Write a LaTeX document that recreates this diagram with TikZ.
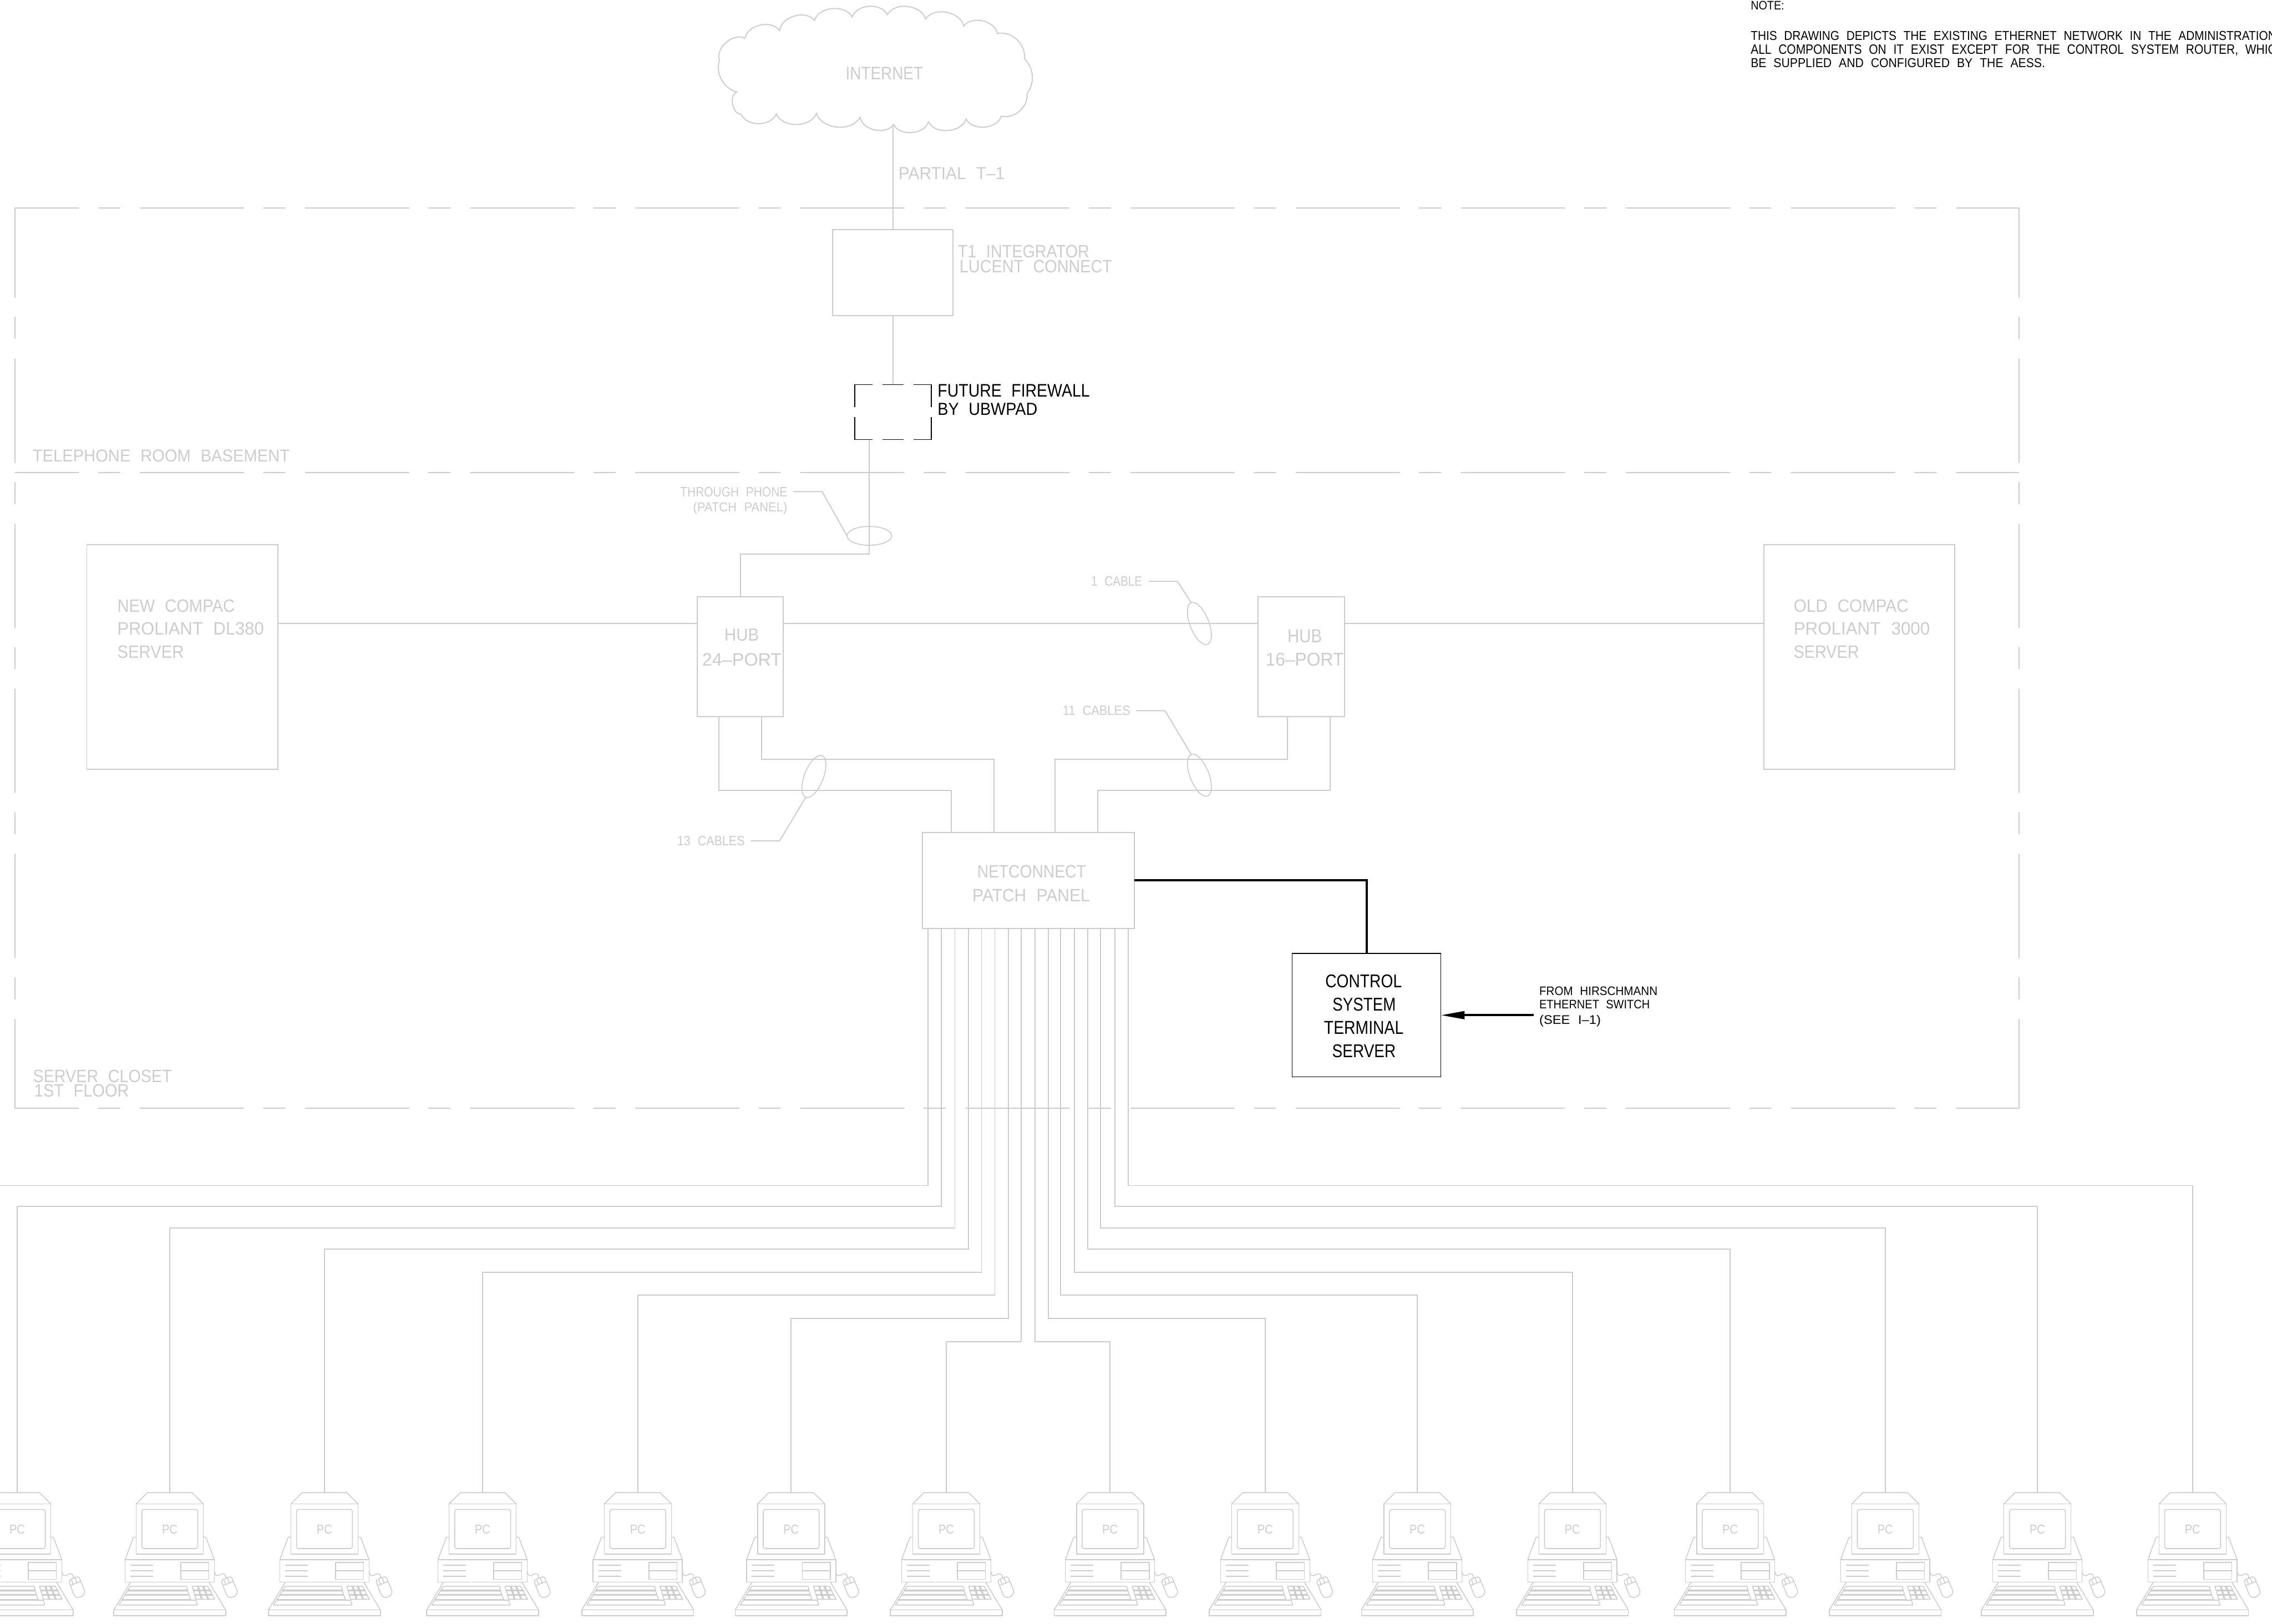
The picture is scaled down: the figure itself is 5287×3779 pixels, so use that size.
\documentclass[tikz,border=0pt]{standalone}
\usepackage{graphicx}
\usepackage{fontspec}
\usetikzlibrary{arrows.meta,shapes.geometric}
\newfontfamily\cadfont[WordSpace=2.2]{Liberation Sans}
\definecolor{cadgray}{HTML}{CCCCCC}
\newlength\cadpx
\setlength\cadpx{0.01cm}
\newcommand\cadt[3]{\resizebox{#1\cadpx}{#2\cadpx}{#3}}
\tikzset{
  gl/.style={draw=cadgray,line width=0.25mm},
  fr/.style={draw=cadgray,line width=0.24mm,line cap=round,dash pattern=on 24.1mm off 4.6mm on 5mm off 4.7mm},
  blk/.style={draw=black,line width=0.18mm},
  thk/.style={draw=black,line width=0.5mm},
  bx/.style 2 args={rectangle,inner sep=0pt,outer sep=0pt,minimum width=#1*0.01cm,minimum height=#2*0.01cm},
  ell/.style={ellipse,draw=cadgray,line width=0.22mm,inner sep=0pt,outer sep=0pt,minimum width=1.04cm,minimum height=0.44cm},
  lb/.style={anchor=base west,inner sep=0pt,outer sep=0pt,text=cadgray,font=\cadfont},
  lbk/.style={anchor=base west,inner sep=0pt,outer sep=0pt,text=black,font=\cadfont},
  pcunit/.pic={
    \begin{scope}[x=0.0033333cm,y=-0.0033333cm,shift={(-439,-158)},draw=cadgray,line width=0.2mm,line join=round]
      \coordinate (-top) at (439,158);
      \draw (205,238) -- (283,160) -- (595,160) -- (674,238);
      \draw (205,238) rectangle (674,590);
      \draw[rounded corners=0.05cm] (244,277) rectangle (635,551);
      \node[inner sep=0pt,outer sep=0pt,text=cadgray,font=\cadfont] (-lbl) at (439,416) {\cadt{36}{21}{PC}};
      \draw (127,628) -- (185,472) -- (205,472);
      \draw (674,472) -- (692,472) -- (751,628);
      \draw (127,628) rectangle (751,785);
      \draw (163,668) -- (323,668) (163,707) -- (323,707) (163,746) -- (323,746);
      \draw (517,648) rectangle (713,766);
      \draw (517,707) -- (713,707);
      \draw (751,707) .. controls (755,745) and (770,745) .. (790,735) .. controls (815,720) and (830,725) .. (832,757);
      \draw (803,790) .. controls (798,770) and (815,765) .. (825,762) -- (850,750) .. controls (870,745) and (878,760) .. (883,780) -- (908,838) .. controls (920,870) and (890,895) .. (865,893) .. controls (845,893) and (838,880) .. (830,860) -- cycle;
      \draw (815,808) -- (883,781) (818,770) -- (830,800) (843,757) -- (855,788);
      \draw (48,980) rectangle (830,1020);
      \draw (48,980) -- (166,785) (830,980) -- (713,785);
      \draw (145,842) -- (166,815) -- (557,815) -- (565,842) -- cycle;
      \draw (127,872) -- (145,848) -- (565,848) -- (573,872) -- cycle;
      \draw (105,907) -- (127,878) -- (575,878) -- (585,907) -- cycle;
      \draw (83,946) -- (105,912) -- (622,912) -- (632,946) -- cycle;
      \draw (595,814) -- (705,814) -- (753,906) -- (622,906) -- cycle;
      \draw (632,814) -- (660,906) (640,814) -- (667,906) (668,814) -- (706,906) (676,814) -- (713,906);
      \draw (605,842) -- (725,842) (605,848) -- (728,848) (612,872) -- (738,872) (614,878) -- (742,878);
      \draw (585,910) -- (622,910);
    \end{scope}
  }
}
\begin{document}
\begin{tikzpicture}[x=0.01cm,y=-0.01cm]
\useasboundingbox (0,0) rectangle (5287,3779);

% cloud
\begin{scope}[shift={(1500,0)},x=0.007653cm,y=-0.005102cm]
  \draw[gl,line join=miter] (227,275)
    to[bend left=68] (305,175) to[bend left=68] (410,140) to[bend left=68] (516,93)
    to[bend left=68] (630,78) to[bend left=68] (737,67) to[bend left=68] (853,87)
    to[bend left=68] (969,120) to[bend left=68] (1071,153) to[bend left=55] (1153,268)
    to[bend left=40] (1161,428) to[bend left=55] (1083,530) to[bend left=68] (976,543)
    to[bend left=68] (862,556) to[bend left=68] (756,568) to[bend left=68] (654,535)
    to[bend left=68] (522,517) to[bend left=68] (400,520) to[bend left=68] (293,521)
    to[bend left=80] (280,420) to[bend left=45] (227,275);
\end{scope}
\coordinate (cusp) at (2078,290);

% frame
\coordinate (ftl) at (35,484);
\coordinate (ftr) at (4698,484);
\coordinate (fml) at (35,1100);
\coordinate (fmr) at (4698,1100);
\coordinate (fbl) at (35,2579);
\coordinate (fbr) at (4698,2579);
\draw[fr,dash phase=9.3mm] (ftl) -- (ftr);
\draw[fr,dash phase=9.3mm] (fml) -- (fmr);
\draw[fr,dash phase=9.3mm] (fbl) -- (fbr);
\draw[fr,dash phase=3.3mm] (ftl) -- (fbl);
\draw[fr,dash phase=3.3mm] (ftr) -- (fbr);

% boxes
\node[bx={280}{201},gl] (t1) at (2078,634.5) {};
\node[bx={178}{128}] (firewall) at (2078,959) {};
\node[bx={445}{522},gl] (srvnew) at (424.5,1529) {};
\node[bx={445}{522},gl] (srvold) at (4326.5,1529) {};
\node[bx={200}{279},gl] (hub24) at (1723,1528.5) {};
\node[bx={201}{279},gl] (hub16) at (3028.5,1528.5) {};
\node[bx={493}{224},gl] (panel) at (2392.5,2049) {};
\node[bx={346}{287},blk] (ctrl) at (3180,2362.5) {};

% firewall dashes
\draw[blk] (firewall.north west) ++(42,0) -- (firewall.north west) -- ++(0,52);
\draw[blk] (firewall.north east) ++(-41,0) -- (firewall.north east) -- ++(0,52);
\draw[blk] (firewall.south west) ++(42,0) -- (firewall.south west) -- ++(0,-52);
\draw[blk] (firewall.south east) ++(-41,0) -- (firewall.south east) -- ++(0,-52);
\draw[blk] (2054,895) -- (2103,895) (2054,1023) -- (2103,1023);

% connectors
\draw[gl] (cusp) -- (t1.north);
\draw[gl] (t1.south) -- (firewall.north);
\coordinate (via) at (2023,1289.5);
\draw[gl] (via |- firewall.south) -- (via) -| (hub24.north);
\coordinate (busy) at (0,1451);
\draw[gl] (srvnew.east |- busy) -- (hub24.west |- busy);
\draw[gl] (hub24.east |- busy) -- (hub16.west |- busy);
\draw[gl] (hub16.east |- busy) -- (srvold.west |- busy);

\coordinate (a1) at (1673,1839); \coordinate (b1) at (2214,1839);
\coordinate (a2) at (1772,1767); \coordinate (b2) at (2313,1767);
\coordinate (a3) at (3095,1839); \coordinate (b3) at (2554,1839);
\coordinate (a4) at (2996,1767); \coordinate (b4) at (2455,1767);
\draw[gl] (a1 |- hub24.south) -- (a1) -- (b1) -- (b1 |- panel.north);
\draw[gl] (a2 |- hub24.south) -- (a2) -- (b2) -- (b2 |- panel.north);
\draw[gl] (a3 |- hub16.south) -- (a3) -- (b3) -- (b3 |- panel.north);
\draw[gl] (a4 |- hub16.south) -- (a4) -- (b4) -- (b4 |- panel.north);

\draw[thk] (panel.east) -| (ctrl.north);
\coordinate (arrowfrom) at (3569,2362.5);
\draw[thk,-{Triangle[length=5.5mm,width=1.8mm]}] (arrowfrom) -- (ctrl.east);

% cable markers
\node[ell] (ellphone) at (2023,1247) {};
\node[ell,rotate=-68.6] (ell1) at (2791,1451) {};
\node[ell,rotate=-68.6] (ell11) at (2791,1804) {};
\node[ell,rotate=68.6] (ell13) at (1894,1807) {};
\coordinate (ldpa) at (1846,1144); \coordinate (ldpb) at (1913,1144);
\draw[gl] (ldpa) -- (ldpb) -- (ellphone.west);
\coordinate (ld1a) at (2673,1353); \coordinate (ld1b) at (2740,1353);
\draw[gl] (ld1a) -- (ld1b) -- (ell1.west);
\coordinate (ld11a) at (2644,1654); \coordinate (ld11b) at (2711,1654);
\draw[gl] (ld11a) -- (ld11b) -- (ell11.west);
\coordinate (ld13a) at (1747,1957); \coordinate (ld13b) at (1814,1957);
\draw[gl] (ld13a) -- (ld13b) -- (ell13.west);

% PCs and their cables
\foreach \i/\xp in {1/40,2/395,3/755,4/1123,5/1484,6/1841,7/2202,8/2583,9/2944,10/3298,11/3659,12/4026,13/4387,14/4741,15/5102}
  \pic (pc\i) at (\xp,3473) {pcunit};
\foreach \i/\xv/\yh in {1/2191/2808,2/2222/2858,3/2254/2907,4/2284/2961,5/2315/3014,6/2346/3068,7/2376/3122,8/2408/3122,9/2439/3068,10/2468/3014,11/2500/2961,12/2531/2907,13/2561/2858,14/2594/2808,15/2626/2759}{
  \coordinate (t\i) at (\xv,\yh);
  \draw[gl] (panel.south -| t\i) -- (t\i) -- (t\i -| pc\i-top) -- (pc\i-top);
}
\coordinate (t0) at (2159,2759);
\coordinate (offleft) at (-10,2759);
\draw[gl] (panel.south -| t0) -- (t0) -- (offleft);

% labels (left x, baseline y)
\node[lb] (tinternet) at (1968,185) {\cadt{180}{29}{INTERNET}};
\node[lb] (tpartial) at (2091,417) {\cadt{247}{28}{PARTIAL T–1}};
\node[lb] (tt1a) at (2229,599) {\cadt{306}{29}{T1 INTEGRATOR}};
\node[lb] (tt1b) at (2233,635) {\cadt{355}{29}{LUCENT CONNECT}};
\node[lbk] (tfwa) at (2182,924) {\cadt{354}{29}{FUTURE FIREWALL}};
\node[lbk] (tfwb) at (2182,966) {\cadt{232}{28}{BY UBWPAD}};
\node[lb] (ttel) at (76,1074) {\cadt{598}{28}{TELEPHONE ROOM BASEMENT}};
\node[lb] (tclosa) at (77,2519) {\cadt{323}{29}{SERVER CLOSET}};
\node[lb] (tclosb) at (80,2553) {\cadt{220}{29}{1ST FLOOR}};
\node[lb] (tnewa) at (273,1424) {\cadt{273}{29}{NEW COMPAC}};
\node[lb] (tnewb) at (273,1477) {\cadt{341}{29}{PROLIANT DL380}};
\node[lb] (tnewc) at (273,1531) {\cadt{155}{29}{SERVER}};
\node[lb] (tolda) at (4174,1424) {\cadt{267}{29}{OLD COMPAC}};
\node[lb] (toldb) at (4174,1477) {\cadt{317}{29}{PROLIANT 3000}};
\node[lb] (toldc) at (4174,1531) {\cadt{152}{29}{SERVER}};
\node[lb] (thuba) at (1686,1492) {\cadt{80}{28}{HUB}};
\node[lb] (thubb) at (1634,1549) {\cadt{185}{29}{24–PORT}};
\node[lb] (thubc) at (2996,1495) {\cadt{80}{30}{HUB}};
\node[lb] (thubd) at (2945,1550) {\cadt{182}{30}{16–PORT}};
\node[lb] (tneta) at (2274,2043) {\cadt{253}{29}{NETCONNECT}};
\node[lb] (tnetb) at (2263,2098) {\cadt{273}{29}{PATCH PANEL}};
\node[lb] (tphonea) at (1583,1156) {\cadt{249}{22}{THROUGH PHONE}};
\node[lb] (tphoneb) at (1613,1191) {\cadt{219}{22}{(PATCH PANEL)}};
\node[lb] (tone) at (2539,1364) {\cadt{119}{22}{1 CABLE}};
\node[lb] (televen) at (2473,1665) {\cadt{157}{22}{11 CABLES}};
\node[lb] (tthirteen) at (1576,1968) {\cadt{157}{22}{13 CABLES}};
\node[lbk] (tca) at (3084,2298) {\cadt{178}{30}{CONTROL}};
\node[lbk] (tcb) at (3101,2353) {\cadt{147}{30}{SYSTEM}};
\node[lbk] (tcc) at (3081,2406) {\cadt{185}{30}{TERMINAL}};
\node[lbk] (tcd) at (3100,2461) {\cadt{148}{30}{SERVER}};
\node[lbk] (tfroma) at (3582,2316) {\cadt{275}{20}{FROM HIRSCHMANN}};
\node[lbk] (tfromb) at (3582,2347) {\cadt{257}{20}{ETHERNET SWITCH}};
\node[lbk] (tfromc) at (3582,2384) {\cadt{143}{21}{(SEE I–1)}};
\node[lbk] (tnote) at (4074,22) {\cadt{78}{20}{NOTE:}};
\node[lbk] (tnotea) at (4074,93) {\cadt{1223}{21}{THIS DRAWING DEPICTS THE EXISTING ETHERNET NETWORK IN THE ADMINISTRATION}};
\node[lbk] (tnoteb) at (4074,126) {\cadt{1223}{22}{ALL COMPONENTS ON IT EXIST EXCEPT FOR THE CONTROL SYSTEM ROUTER, WHIC}};
\node[lbk] (tnotec) at (4074,157) {\cadt{685}{21}{BE SUPPLIED AND CONFIGURED BY THE AESS.}};
\end{tikzpicture}
\end{document}
